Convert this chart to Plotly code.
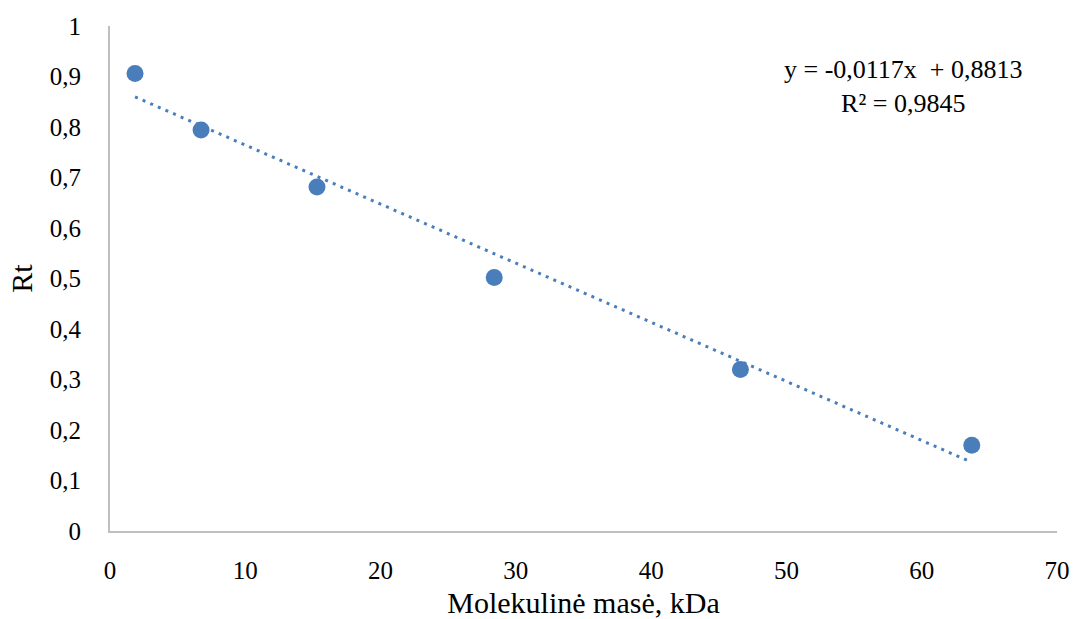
import plotly.graph_objects as go

# Data
mass_kda = [1.85, 6.73, 15.3, 28.4, 46.6, 63.7]
rt_values = [0.906, 0.794, 0.681, 0.502, 0.320, 0.170]
slope = -0.0117
intercept = 0.8813
r2 = 0.9845
x_ticks = [0, 10, 20, 30, 40, 50, 60, 70]
y_ticks = [0, 0.1, 0.2, 0.3, 0.4, 0.5, 0.6, 0.7, 0.8, 0.9, 1]
y_tick_labels = ["0", "0,1", "0,2", "0,3", "0,4", "0,5", "0,6", "0,7", "0,8", "0,9", "1"]

font_family = "Liberation Serif, Times New Roman, serif"
blue = "#4a7ebb"
axis_grey = "#bfbfbf"

trend_x = [min(mass_kda), max(mass_kda)]
trend_y = [slope * v + intercept for v in trend_x]

fig = go.Figure()
fig.add_trace(go.Scatter(
    x=trend_x, y=trend_y, mode="lines",
    line=dict(color=blue, width=3, dash="3px,5.3px"),
    hoverinfo="skip", showlegend=False,
))
fig.add_trace(go.Scatter(
    x=mass_kda, y=rt_values, mode="markers",
    marker=dict(color=blue, size=17),
    showlegend=False,
))

eq_text = ("y = -" + f"{abs(slope):.4f}".replace(".", ",") + "x  + "
           + f"{intercept:.4f}".replace(".", ",")
           + "<br>R² = " + f"{r2:.4f}".replace(".", ","))

plot_l, plot_r, plot_t, plot_b = 110, 1082 - 1057, 26, 619 - 531
pw = 1082 - plot_l - plot_r
ph = 619 - plot_t - plot_b

fig.add_annotation(
    x=(903 - plot_l) / pw, y=(531 - 86) / ph, xref="paper", yref="paper",
    xanchor="center", yanchor="middle",
    text=eq_text, showarrow=False,
    align="center", font=dict(family=font_family, size=26, color="#000000"),
)

fig.update_layout(
    width=1082, height=619,
    margin=dict(l=plot_l, r=plot_r, t=plot_t, b=plot_b),
    paper_bgcolor="white", plot_bgcolor="white",
    font=dict(family=font_family, size=25, color="#000000"),
    xaxis=dict(
        range=[0, 70], tickvals=x_ticks, ticktext=[str(v) for v in x_ticks],
        showgrid=False, zeroline=False, showline=True, linecolor=axis_grey, linewidth=2,
        ticks="", ticklabelstandoff=16, automargin=False,
        title=dict(text="Molekulinė masė, kDa", font=dict(size=30), standoff=9),
        tickfont=dict(size=25),
    ),
    yaxis=dict(
        range=[0, 1], tickvals=y_ticks, ticktext=y_tick_labels,
        showgrid=False, zeroline=False, showline=True, linecolor=axis_grey, linewidth=2,
        ticks="", ticklabelstandoff=22, automargin=False,
        title=dict(text="Rt", font=dict(size=30), standoff=8),
        tickfont=dict(size=25),
    ),
)

fig.write_html("out.html")
